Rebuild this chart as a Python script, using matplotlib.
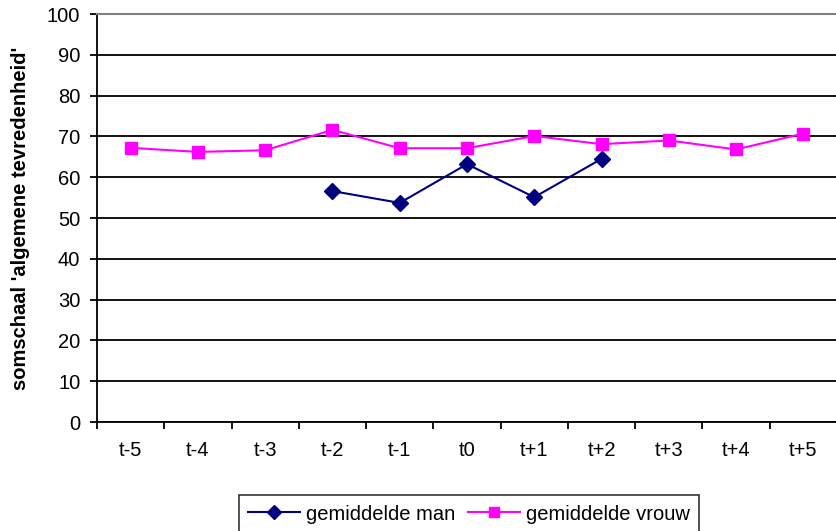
import matplotlib.pyplot as plt

plt.rcParams['font.family'] = ['Liberation Sans', 'DejaVu Sans']

labels = ['t-5', 't-4', 't-3', 't-2', 't-1', 't0', 't+1', 't+2', 't+3', 't+4', 't+5']
man = [None, None, None, 56.6, 53.7, 63.2, 55.1, 64.5, None, None, None]
vrouw = [67.2, 66.2, 66.6, 71.6, 67.1, 67.1, 70.1, 68.1, 69.0, 66.8, 70.7]

x = list(range(len(labels)))
man_x = [i for i, v in zip(x, man) if v is not None]
man_y = [v for v in man if v is not None]

fig = plt.figure(figsize=(8.37, 5.31), dpi=100)
ax = fig.add_axes([97 / 837, 109 / 531, 740 / 837, 408 / 531])

ax.plot(man_x, man_y, color='#000080', marker='D', markersize=8, linewidth=1.5,
        label='gemiddelde man', clip_on=False, zorder=3)
ax.plot(x, vrouw, color='#FF00FF', marker='s', markersize=9, linewidth=1.5,
        label='gemiddelde vrouw', clip_on=False, zorder=3)

ax.set_ylim(0, 100)
ax.set_xlim(-0.5, -0.5 + 740 / 68)
ax.set_yticks(range(0, 101, 10))
ax.yaxis.grid(True, color='black', linewidth=1.3)
ax.set_axisbelow(True)

ax.set_xticks(x)
ax.set_xticklabels(labels)
ax.set_xticks([i + 0.5 for i in range(-1, 11)], minor=True)
ax.tick_params(axis='x', which='major', length=0, pad=14, labelsize=14.5)
ax.tick_params(axis='x', which='minor', length=5, width=1.3, direction='out')
ax.tick_params(axis='y', length=5, width=1.3, labelsize=14.5, pad=7)

ax.spines['right'].set_visible(False)
ax.spines['top'].set_color('#808080')
ax.spines['top'].set_linewidth(1.5)
ax.spines['left'].set_linewidth(1.3)
ax.spines['bottom'].set_linewidth(1.3)

ax.set_ylabel("somschaal 'algemene tevredenheid'", fontsize=14.5, fontweight='bold', labelpad=12)

leg = fig.legend(loc='center', bbox_to_anchor=(469 / 837, 1 - 514 / 531), ncol=2,
                 frameon=True, fancybox=False, edgecolor='black', fontsize=14.5,
                 handlelength=2.6, columnspacing=0.6, handletextpad=0.3,
                 borderpad=0.45, borderaxespad=0, markerscale=0.85)
leg.get_frame().set_linewidth(1.2)

fig.savefig('out.png', dpi=100)
